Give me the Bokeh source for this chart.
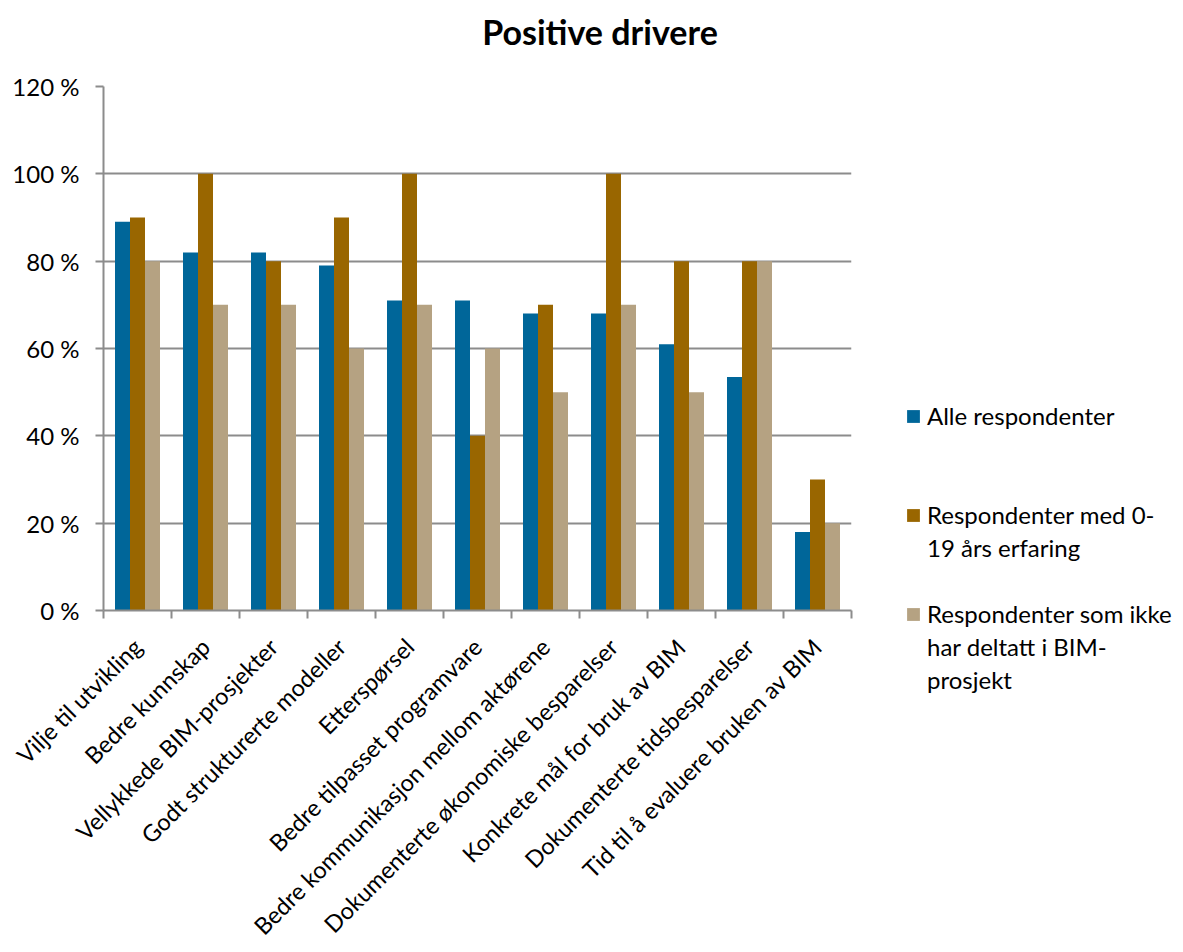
import math
from bokeh.plotting import figure
from bokeh.layouts import row, column
from bokeh.models import (FixedTicker, Range1d, Legend, LegendItem, Div,
                          ColumnDataSource)
from bokeh.embed import file_html
from bokeh.resources import INLINE

# ---------------- data ----------------
categories = [
    "Vilje til utvikling",
    "Bedre kunnskap",
    "Vellykkede BIM-prosjekter",
    "Godt strukturerte modeller",
    "Etterspørsel",
    "Bedre tilpasset programvare",
    "Bedre kommunikasjon mellom aktørene",
    "Dokumenterte økonomiske besparelser",
    "Konkrete mål for bruk av BIM",
    "Dokumenterte tidsbesparelser",
    "Tid til å evaluere bruken av BIM",
]
alle_respondenter = [89, 82, 82, 79, 71, 71, 68, 68, 61, 53.5, 18]
erfaring_0_19 = [90, 100, 80, 90, 100, 40, 70, 100, 80, 80, 30]
ikke_bim_prosjekt = [80, 70, 70, 60, 70, 60, 50, 70, 50, 80, 20]
# legend labels, one list of wrapped lines per series
series_label_lines = [
    ["Alle respondenter"],
    ["Respondenter med 0-", "19 års erfaring"],
    ["Respondenter som ikke", "har deltatt i BIM-", "prosjekt"],
]
y_tick_values = [0, 20, 40, 60, 80, 100, 120]
y_tick_labels = ["0 %", "20 %", "40 %", "60 %", "80 %", "100 %", "120 %"]
title_text = "Positive drivere"

# ---------------- style ----------------
FONT = "Lato"
colors = ["#006699", "#996600", "#B5A282"]
grid_color = "#8C8C8C"
bar_w = 15 / 68
TITLE_H = 64

p = figure(width=861, height=952 - TITLE_H, output_backend="svg",
           toolbar_location=None,
           x_range=Range1d(0, len(categories)), y_range=Range1d(0, 120),
           min_border_left=103, min_border_right=10, min_border_top=86 - TITLE_H,
           min_border_bottom=340, outline_line_color=None,
           background_fill_color="white", border_fill_color="white")

series = [alle_respondenter, erfaring_0_19, ikke_bim_prosjekt]
offsets = [-bar_w, 0, bar_w]
for vals, off, col in zip(series, offsets, colors):
    src = ColumnDataSource(dict(x=[i + 0.5 + off for i in range(len(categories))],
                                top=vals))
    p.vbar(x="x", top="top", width=bar_w, bottom=0, source=src,
           fill_color=col, line_color=None)

# axes
p.xaxis.ticker = FixedTicker(ticks=[i + 0.5 for i in range(len(categories))],
                             minor_ticks=list(range(len(categories) + 1)))
p.xaxis.major_label_overrides = {i + 0.5: c for i, c in enumerate(categories)}
p.xaxis.major_label_orientation = math.pi / 4
p.xaxis.major_tick_out = 0
p.xaxis.major_tick_in = 0
p.xaxis.minor_tick_out = 8
p.xaxis.minor_tick_in = 0
p.xaxis.minor_tick_line_color = grid_color
p.xaxis.minor_tick_line_width = 2
p.xaxis.axis_line_color = grid_color
p.xaxis.axis_line_width = 2
p.xaxis.major_label_standoff = 24
p.xaxis.major_label_text_font = FONT
p.xaxis.major_label_text_font_size = "23.5px"
p.xaxis.major_label_text_color = "black"

p.yaxis.ticker = FixedTicker(ticks=y_tick_values)
p.yaxis.major_label_overrides = {v: l for v, l in zip(y_tick_values, y_tick_labels)}
p.yaxis.major_tick_out = 8
p.yaxis.major_tick_in = 0
p.yaxis.major_tick_line_color = grid_color
p.yaxis.major_tick_line_width = 2
p.yaxis.minor_tick_line_color = None
p.yaxis.axis_line_color = grid_color
p.yaxis.axis_line_width = 2
p.yaxis.major_label_standoff = 16
p.yaxis.major_label_text_font = FONT
p.yaxis.major_label_text_font_size = "24px"
p.yaxis.major_label_text_color = "black"

p.xgrid.grid_line_color = None
p.ygrid.grid_line_color = grid_color
p.ygrid.grid_line_width = 2
p.ygrid.ticker = FixedTicker(ticks=y_tick_values)

# ---------------- title ----------------
title = Div(text=title_text, width=1183, height=TITLE_H,
            styles={"font-family": FONT, "font-size": "34px",
                    "font-weight": "bold", "color": "black",
                    "text-align": "center", "text-indent": "17px",
                    "line-height": f"{TITLE_H}px", "margin": "0",
                    "padding": "0"})

# ---------------- legend column ----------------
q = figure(width=322, height=952 - TITLE_H, output_backend="svg",
           toolbar_location=None,
           x_range=Range1d(0, 1), y_range=Range1d(0, 1),
           min_border=0, outline_line_color=None,
           background_fill_color="white", border_fill_color="white")
q.xaxis.visible = False
q.yaxis.visible = False
q.xgrid.grid_line_color = None
q.ygrid.grid_line_color = None

# zero-height bars: they only provide the legend swatch styles
swatches = [q.vbar(x=[0.5], top=[0], bottom=0, width=0.1, fill_color=col,
                   line_color=None) for col in colors]
blank = q.vbar(x=[0.5], top=[0], bottom=0, width=0.1, fill_alpha=0, line_alpha=0)

items = []
for k, (lines, r) in enumerate(zip(series_label_lines, swatches)):
    if k > 0:
        n_spacer = 2 if k == 1 else 1
        for _ in range(n_spacer):
            items.append(LegendItem(label=" ", renderers=[blank]))
    items.append(LegendItem(label=lines[0], renderers=[r]))
    for extra in lines[1:]:
        items.append(LegendItem(label=extra, renderers=[blank]))

legend = Legend(items=items, location=(44, 256), orientation="vertical",
                glyph_width=16, glyph_height=16, label_standoff=6,
                label_height=33, spacing=0,
                label_text_font=FONT, label_text_font_size="24px",
                label_text_color="black",
                border_line_color=None, background_fill_alpha=0,
                padding=0, margin=0)
q.add_layout(legend, "center")

layout = column(title, row(p, column(q, spacing=0), spacing=0), spacing=0)
open("out.html", "w").write(file_html(layout, INLINE))
